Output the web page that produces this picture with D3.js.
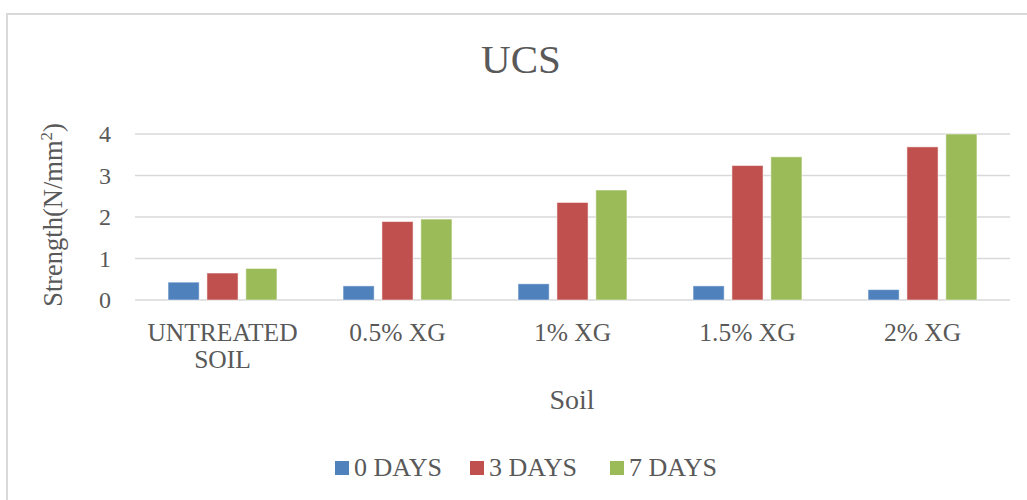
<!DOCTYPE html>
<html>
<head>
<meta charset="utf-8">
<script src="https://cdn.jsdelivr.net/npm/d3@7"></script>
<style>
  body { margin: 0; background: #fff; }
  text { font-family: "Liberation Serif", "Times New Roman", serif; fill: #595959; }
</style>
</head>
<body>
<script>
// data
const categories = ["UNTREATED SOIL", "0.5% XG", "1% XG", "1.5% XG", "2% XG"]
const series = ["0 DAYS", "3 DAYS", "7 DAYS"]
const days0 = [0.43, 0.34, 0.39, 0.34, 0.25]
const days3 = [0.65, 1.89, 2.35, 3.24, 3.69]
const days7 = [0.76, 1.95, 2.65, 3.45, 4.0]
const colors = ["#4f81bd", "#c0504d", "#9bbb59"]
const yTicks = [0, 1, 2, 3, 4]

const width = 1027, height = 500
const plot = { left: 135, right: 1010, top: 134, bottom: 300 }

const svg = d3.select("body").append("svg")
    .attr("width", width)
    .attr("height", height)

// chart frame
svg.append("rect")
    .attr("x", 7).attr("y", 14)
    .attr("width", 1040).attr("height", 520)
    .attr("fill", "none")
    .attr("stroke", "#d9d9d9")
    .attr("stroke-width", 2)

const x = d3.scaleBand().domain(categories).range([plot.left, plot.right])
const xSub = d3.scaleBand().domain(series).range([0, x.bandwidth()])
    .paddingInner(0.2).paddingOuter(0.85)
const y = d3.scaleLinear().domain([0, 4]).range([plot.bottom, plot.top])

// gridlines
svg.append("g").selectAll("line")
    .data(yTicks)
    .join("line")
    .attr("x1", plot.left).attr("x2", plot.right)
    .attr("y1", d => y(d)).attr("y2", d => y(d))
    .attr("stroke", "#d9d9d9")
    .attr("stroke-width", 1.5)

// y tick labels
svg.append("g").selectAll("text")
    .data(yTicks)
    .join("text")
    .attr("x", 111)
    .attr("y", d => y(d))
    .attr("dy", "0.34em")
    .attr("text-anchor", "end")
    .style("font-size", "24px")
    .text(d => d)

// bars
const values = [days0, days3, days7]
const rows = []
series.forEach((s, i) => {
    categories.forEach((c, j) => {
        rows.push({ series: s, cat: c, value: values[i][j], color: colors[i] })
    })
})

svg.append("g").selectAll("rect")
    .data(rows)
    .join("rect")
    .attr("x", d => x(d.cat) + xSub(d.series))
    .attr("y", d => y(d.value))
    .attr("width", xSub.bandwidth())
    .attr("height", d => y(0) - y(d.value))
    .attr("fill", d => d.color)
    .attr("stroke", "#fff")
    .attr("stroke-opacity", 0.5)
    .attr("stroke-width", 1)

// category labels (wrapped like excel)
const catLabels = svg.append("g").selectAll("text")
    .data(categories)
    .join("text")
    .attr("x", d => x(d) + x.bandwidth() / 2)
    .attr("y", 341)
    .attr("text-anchor", "middle")
    .style("font-size", "25.5px")

catLabels.each(function (d) {
    const parts = d === "UNTREATED SOIL" ? ["UNTREATED", "SOIL"] : [d]
    d3.select(this).selectAll("tspan")
        .data(parts)
        .join("tspan")
        .attr("x", x(d) + x.bandwidth() / 2)
        .attr("dy", (p, i) => i === 0 ? 0 : 27)
        .text(p => p)
})

// title
svg.append("text")
    .attr("x", 521).attr("y", 73)
    .attr("text-anchor", "middle")
    .style("font-size", "41px")
    .text("UCS")

// axis titles
svg.append("text")
    .attr("x", 572).attr("y", 409)
    .attr("text-anchor", "middle")
    .style("font-size", "28px")
    .text("Soil")

const yTitle = svg.append("text")
    .attr("transform", "translate(62, 215) rotate(-90)")
    .attr("text-anchor", "middle")
    .style("font-size", "26.5px")
yTitle.append("tspan").text("Strength(N/mm")
yTitle.append("tspan").attr("dy", -10).style("font-size", "17px").text("2")
yTitle.append("tspan").attr("dy", 10).text(")")

// legend
const legendX = [335, 470, 610]
const legend = svg.append("g").selectAll("g")
    .data(series)
    .join("g")
    .attr("transform", (d, i) => `translate(${legendX[i]}, 461)`)

legend.append("rect")
    .attr("width", 14).attr("height", 14)
    .attr("fill", (d, i) => colors[i])

legend.append("text")
    .attr("x", 19).attr("y", 15)
    .style("font-size", "26px")
    .text(d => d)
</script>
</body>
</html>
